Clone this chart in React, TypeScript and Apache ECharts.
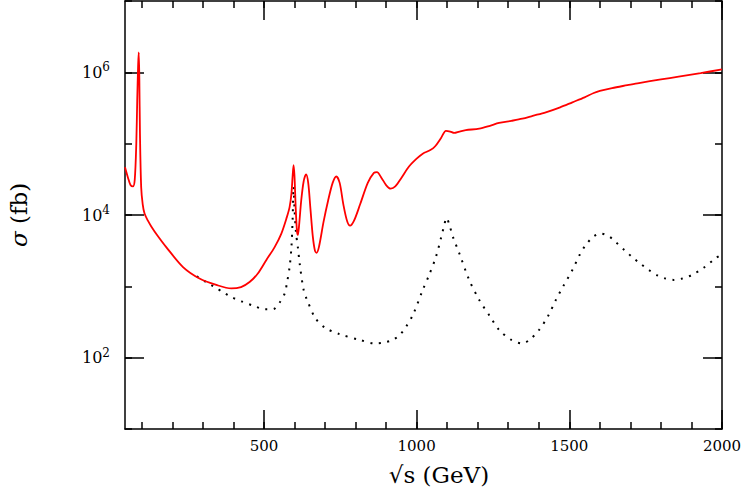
import React, { useEffect, useRef } from "react";
import * as echarts from "echarts";

// sqrt(s) in GeV and log10(sigma / fb) for the full cross section (red)
const redX = [
  45, 55, 63, 71, 77, 82, 85, 88, 90, 92, 94, 98, 103, 109, 120, 131, 150, 180, 235, 289,
  344, 393, 425, 453, 480, 508, 535, 557, 575, 584, 590, 594, 597, 600, 604, 608, 611,
  615, 622, 630, 638, 645, 652, 660, 667, 672, 680, 695, 710, 725, 737, 748, 760, 772, 782,
  795, 815, 840, 860, 870, 885, 900, 915, 930, 950, 975, 1000, 1020, 1045, 1060, 1080, 1096,
  1110, 1123, 1140, 1161, 1205, 1240, 1270, 1310, 1346, 1380, 1423, 1470, 1510, 1550, 1580,
  1600, 1640, 1690, 1728, 1800, 1858, 1930, 2000,
];
const redLogSigma = [
  4.67, 4.52, 4.42, 4.4, 4.5, 5.0, 5.6, 6.1, 6.28, 5.9, 5.14, 4.39, 4.15, 4.02, 3.92, 3.84,
  3.72, 3.55, 3.27, 3.11, 3.02, 2.97, 2.99, 3.06, 3.18, 3.37, 3.55, 3.74, 3.97, 4.11,
  4.3, 4.55, 4.7, 4.55, 4.1, 3.78, 3.72, 3.85, 4.2, 4.47, 4.57, 4.45, 4.1, 3.7, 3.5, 3.47,
  3.55, 3.9, 4.2, 4.45, 4.54, 4.45, 4.15, 3.92, 3.85, 3.92, 4.15, 4.45, 4.59, 4.6, 4.52,
  4.42, 4.37, 4.4, 4.52, 4.68, 4.79, 4.86, 4.91, 4.96, 5.08, 5.18, 5.17, 5.15, 5.17, 5.19,
  5.21, 5.25, 5.29, 5.32, 5.35, 5.39, 5.44, 5.51, 5.58, 5.65, 5.71, 5.74, 5.78, 5.82, 5.85,
  5.9, 5.94, 5.99, 6.04,
];

// sqrt(s) in GeV and log10(sigma / fb) for the dotted curve
const dotX = [
  280, 311, 338, 366, 393, 426, 470, 502, 530, 551, 568, 575, 584, 590, 594, 597, 600, 605,
  611, 617, 630, 644, 669, 700, 747, 813, 862, 890, 922, 945, 965, 990, 1020, 1040, 1063,
  1080, 1090, 1098, 1108, 1120, 1140, 1172, 1205, 1240, 1270, 1310, 1346, 1370, 1401, 1430,
  1456, 1480, 1510, 1535, 1554, 1580, 1603, 1630, 1652, 1680, 1706, 1735, 1760, 1790, 1815,
  1842, 1870, 1902, 1940, 1978, 2000,
];
const dotLogSigma = [
  3.14, 3.06, 2.99, 2.92, 2.85, 2.79, 2.72, 2.68, 2.68, 2.77, 2.9, 3.04, 3.27, 3.55, 3.95,
  4.4, 4.1, 3.75, 3.55, 3.32, 2.95, 2.78, 2.55, 2.42, 2.33, 2.25, 2.2, 2.21, 2.25, 2.32, 2.43,
  2.62, 2.95, 3.15, 3.41, 3.68, 3.85, 3.96, 3.85, 3.68, 3.46, 3.09, 2.81, 2.58, 2.39, 2.25,
  2.2, 2.25, 2.39, 2.58, 2.81, 3.0, 3.23, 3.45, 3.58, 3.7, 3.74, 3.7, 3.62, 3.51, 3.41, 3.31,
  3.23, 3.15, 3.11, 3.09, 3.11, 3.16, 3.26, 3.39, 3.45,
];

const xMajorTicks = [500, 1000, 1500, 2000];
const xMinorTicks = [
  100, 200, 300, 400, 500, 600, 700, 800, 900, 1000, 1100, 1200, 1300, 1400, 1500, 1600,
  1700, 1800, 1900, 2000,
];
const yLabelExponents = [2, 4, 6];

const SERIF = '"DejaVu Serif", "Liberation Serif", serif';
const tickLine = { color: "#000", width: 1.5 };

export default function App() {
  const ref = useRef<HTMLDivElement>(null);

  useEffect(() => {
    const chart = echarts.init(ref.current!, null, { renderer: "svg" });

    const xBase = {
      type: "value",
      min: 45,
      max: 2000,
      splitLine: { show: false },
    };
    const yBase = {
      type: "value",
      min: 1,
      max: 7,
      splitLine: { show: false },
    };

    const option: any = {
      animation: false,
      backgroundColor: "#fff",
      grid: { left: 125, right: 22, top: 1, bottom: 62, containLabel: false, outerBoundsMode: "none" },
      xAxis: [
        {
          ...xBase,
          position: "bottom",
          axisLine: { show: true, lineStyle: tickLine },
          axisTick: { show: true, inside: true, length: 19, customValues: xMajorTicks, lineStyle: tickLine },
          axisLabel: {
            show: true,
            customValues: xMajorTicks,
            margin: 9,
            color: "#000",
            fontFamily: SERIF,
            fontSize: 15,
            formatter: (v: number) => String(v),
          },
        },
        {
          ...xBase,
          position: "bottom",
          axisLine: { show: false },
          axisTick: { show: true, inside: true, length: 7, customValues: xMinorTicks, lineStyle: tickLine },
          axisLabel: { show: false },
        },
        {
          ...xBase,
          position: "top",
          axisLine: { show: true, lineStyle: tickLine },
          axisTick: { show: true, inside: true, length: 19, customValues: xMajorTicks, lineStyle: tickLine },
          axisLabel: { show: false },
        },
        {
          ...xBase,
          position: "top",
          axisLine: { show: false },
          axisTick: { show: true, inside: true, length: 7, customValues: xMinorTicks, lineStyle: tickLine },
          axisLabel: { show: false },
        },
      ],
      yAxis: [
        {
          ...yBase,
          position: "left",
          axisLine: { show: true, lineStyle: tickLine },
          axisTick: { show: true, inside: true, length: 19, customValues: yLabelExponents, lineStyle: tickLine },
          axisLabel: {
            show: true,
            customValues: yLabelExponents,
            margin: 15,
            color: "#000",
            formatter: (v: number) => `{b|10}{s|${v}}`,
            rich: {
              b: { fontFamily: SERIF, fontSize: 16, color: "#000" },
              s: { fontFamily: SERIF, fontSize: 12, color: "#000", padding: [0, 0, 10, 0] },
            },
          },
        },
        {
          ...yBase,
          position: "left",
          interval: 1,
          axisLine: { show: false },
          axisTick: { show: true, inside: true, length: 7, lineStyle: tickLine },
          axisLabel: { show: false },
        },
        {
          ...yBase,
          position: "right",
          axisLine: { show: true, lineStyle: tickLine },
          axisTick: { show: true, inside: true, length: 19, customValues: yLabelExponents, lineStyle: tickLine },
          axisLabel: { show: false },
        },
        {
          ...yBase,
          position: "right",
          interval: 1,
          axisLine: { show: false },
          axisTick: { show: true, inside: true, length: 7, lineStyle: tickLine },
          axisLabel: { show: false },
        },
      ],
      series: [
        {
          type: "line",
          xAxisIndex: 0,
          yAxisIndex: 0,
          data: dotX.map((x, i) => [x, dotLogSigma[i]]),
          showSymbol: false,
          smooth: 0.3,
          silent: true,
          lineStyle: { color: "#000", width: 2, type: [2, 6.5] },
        },
        {
          type: "line",
          xAxisIndex: 0,
          yAxisIndex: 0,
          data: redX.map((x, i) => [x, redLogSigma[i]]),
          showSymbol: false,
          smooth: 0.3,
          silent: true,
          lineStyle: { color: "#ff0000", width: 1.8 },
        },
      ],
      graphic: [
        {
          type: "text",
          x: 439,
          y: 475,
          style: {
            text: "√s (GeV)",
            font: `23px ${SERIF}`,
            fill: "#000",
            align: "center",
            verticalAlign: "middle",
            textAlign: "center",
            textVerticalAlign: "middle",
          },
        },
        {
          type: "text",
          x: 19,
          y: 215,
          rotation: Math.PI / 2,
          style: {
            text: "{i|σ} (fb)",
            font: `23px ${SERIF}`,
            fill: "#000",
            align: "center",
            verticalAlign: "middle",
            textAlign: "center",
            textVerticalAlign: "middle",
            rich: {
              i: { fontFamily: SERIF, fontSize: 23, fontStyle: "italic", fill: "#000" },
            },
          },
        },
      ],
    };

    chart.setOption(option);
    return () => chart.dispose();
  }, []);

  return (
    <div
      ref={ref}
      style={{ position: "absolute", left: 0, top: 0, width: 744, height: 491 }}
    />
  );
}
